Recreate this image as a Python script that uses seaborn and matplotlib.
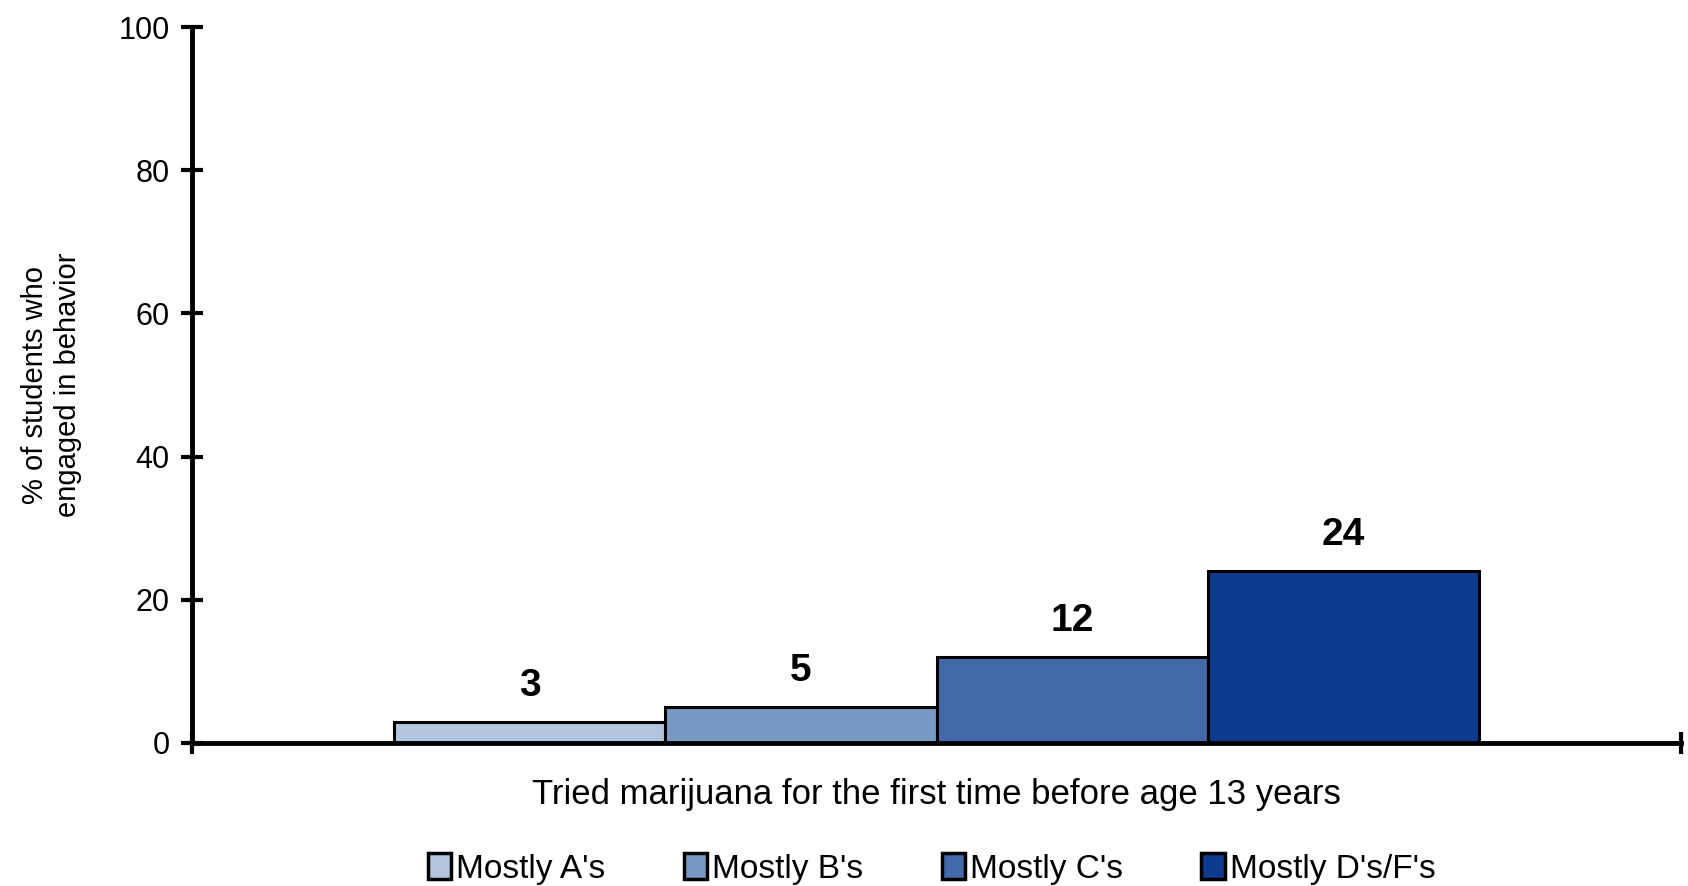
import pandas as pd
import matplotlib
matplotlib.use('Agg')
import matplotlib.pyplot as plt
import seaborn as sb

# data
category = ['Tried marijuana for the first time before age 13 years']
grades = ["Mostly A's", "Mostly B's", "Mostly C's", "Mostly D's/F's"]
values = [3, 5, 12, 24]
colors = ['#B4C3DE', '#7A98C4', '#4469A9', '#0E3B8E']
yticks = [0, 20, 40, 60, 80, 100]

df = pd.DataFrame({'cat': category * len(grades), 'grade': grades, 'pct': values})

sb.set_style('white')
plt.rcParams['font.family'] = ['Liberation Sans Narrow', 'Liberation Sans', 'DejaVu Sans']
plt.rcParams['text.color'] = 'black'
plt.rcParams['axes.labelcolor'] = 'black'
plt.rcParams['xtick.color'] = 'black'
plt.rcParams['ytick.color'] = 'black'

fig = plt.figure(figsize=(16.88, 8.86), dpi=100)
ax = fig.add_axes([0.1137, 0.1614, 0.8822, 0.8081])

sb.barplot(data=df, x='cat', y='pct', hue='grade', palette=colors, width=0.728,
           saturation=1, edgecolor='black', linewidth=2.2, ax=ax, legend=False)

for bar, v in zip(ax.patches, values):
    ax.annotate(f"{v}", (bar.get_x() + bar.get_width() / 2, bar.get_height() + 2.5),
                ha='center', va='bottom', fontsize=28, fontweight='bold')

ax.set_xlim(-0.5, 0.5)
ax.set_ylim(0, 100)
ax.set_yticks(yticks)
ax.set_xticks([-0.5, 0.5])
ax.set_xticklabels(['', ''])
ax.tick_params(axis='y', left=True, direction='inout', length=16, width=3, labelsize=22, pad=8)
ax.tick_params(axis='x', bottom=True, direction='inout', length=16, width=3)
for s in ['top', 'right']:
    ax.spines[s].set_visible(False)
for s in ['left', 'bottom']:
    ax.spines[s].set_linewidth(3.5)
    ax.spines[s].set_color('black')

ax.set_ylabel('% of students who\nengaged in behavior', fontsize=21, labelpad=26, linespacing=1.25)
ax.set_xlabel(category[0], fontsize=25, labelpad=14)

handles = [plt.Rectangle((0, 0), 1, 1, facecolor=c, edgecolor='black', linewidth=2.5) for c in colors]
fig.legend(handles, grades, loc='center', bbox_to_anchor=(0.552, 0.019), ncol=4,
           frameon=False, fontsize=24, handlelength=0.7, handleheight=0.8,
           handletextpad=0.15, columnspacing=2.35)

fig.savefig('out.png', dpi=100)
